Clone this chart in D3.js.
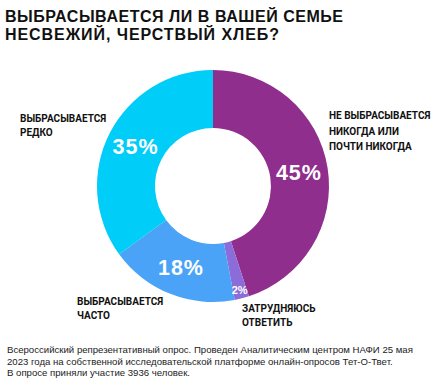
<!DOCTYPE html>
<html><head><meta charset="utf-8">
<script src="https://cdn.jsdelivr.net/npm/d3@7"></script>
<style>
html,body{margin:0;padding:0;background:#fff;}
svg{display:block;}
</style></head>
<body>
<svg id="chart" width="442" height="383"></svg>
<script>
const titleLines = ["ВЫБРАСЫВАЕТСЯ ЛИ В ВАШЕЙ СЕМЬЕ", "НЕСВЕЖИЙ, ЧЕРСТВЫЙ ХЛЕБ?"];
const categories = ["Не выбрасывается никогда или почти никогда", "Затрудняюсь ответить", "Выбрасывается часто", "Выбрасывается редко"];
const values = [45, 2, 18, 35];
const colors = ["#8F2E8D", "#8C6CD8", "#4AA3F6", "#00CDF8"];
const categoryLabels = [
  ["НЕ ВЫБРАСЫВАЕТСЯ", "НИКОГДА ИЛИ", "ПОЧТИ НИКОГДА"],
  ["ЗАТРУДНЯЮСЬ", "ОТВЕТИТЬ"],
  ["ВЫБРАСЫВАЕТСЯ", "ЧАСТО"],
  ["ВЫБРАСЫВАЕТСЯ", "РЕДКО"]
];
const footnote = [
  "Всероссийский репрезентативный опрос. Проведен Аналитическим центром НАФИ 25 мая",
  "2023 года на собственной исследовательской платформе онлайн-опросов Тет-О-Твет.",
  "В опросе приняли участие 3936 человек."
];

const svg = d3.select("#chart");
const cx = 213, cy = 186, rOuter = 116, rInner = 58;

// Title
const title = svg.append("text").attr("x", 5).attr("font-family", "Liberation Sans, Arial, sans-serif")
  .attr("font-weight", "bold").attr("font-size", 16).attr("fill", "#111");
const titleWidths = [338, 274];
titleLines.forEach((t, i) => {
  title.append("tspan").attr("x", 5).attr("y", 22 + i * 18).text(t)
    .attr("textLength", titleWidths[i]).attr("lengthAdjust", "spacing");
});

const pie = d3.pie().value(d => d).sort(null);
const arcs = pie(values);
const arc = d3.arc().innerRadius(rInner).outerRadius(rOuter);
const g = svg.append("g").attr("transform", `translate(${cx},${cy})`);
g.selectAll("path").data(arcs).enter().append("path")
  .attr("d", arc).attr("fill", (d, i) => colors[i]);

// percentage labels
const labelArc = d3.arc().innerRadius(87).outerRadius(87);
const outerLabelArc = d3.arc().innerRadius(107).outerRadius(107);
g.selectAll("text.pct").data(arcs).enter().append("text")
  .attr("class", "pct")
  .attr("transform", d => {
    const small = d.value < 5;
    const c = (small ? outerLabelArc : labelArc).centroid(d);
    return `translate(${c[0]},${c[1]})`;
  })
  .attr("text-anchor", "middle")
  .attr("dy", "0.36em")
  .attr("font-family", "Liberation Sans, Arial, sans-serif")
  .attr("font-weight", "bold")
  .attr("font-size", d => d.value < 5 ? 11 : 21.5)
  .attr("letter-spacing", d => d.value < 5 ? 0 : 1)
  .attr("fill", "#fff")
  .text(d => d.value + "%");

// category labels
const labelPos = [[329, 119, 15.5], [242, 312, 14], [77, 305, 14], [20, 122, 14]];
categoryLabels.forEach((lines, i) => {
  const [x, y, lh] = labelPos[i];
  const t = svg.append("text").attr("font-family", "Roboto, Liberation Sans, Arial, sans-serif")
    .attr("font-weight", "bold").attr("font-size", 10).attr("fill", "#111");
  lines.forEach((l, j) => t.append("tspan").attr("x", x).attr("y", y + j * lh).text(l));
});

// footnote
const fn = svg.append("text").attr("font-family", "Liberation Sans, Arial, sans-serif")
  .attr("font-size", 9.6).attr("fill", "#222");
footnote.forEach((l, i) => fn.append("tspan").attr("x", 7).attr("y", 353 + i * 11.7).text(l));
</script>
</body></html>
